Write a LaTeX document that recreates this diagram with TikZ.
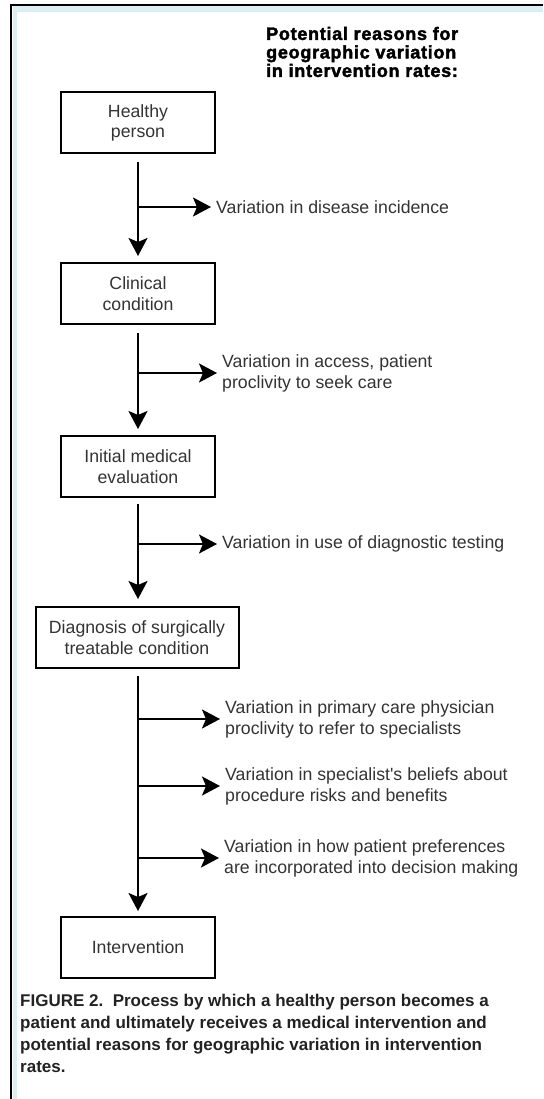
\documentclass[tikz,border=0pt]{standalone}
\usepackage{fontspec}
\setmainfont{Liberation Sans}
\newfontfamily\titlefont{Liberation Sans}[BoldFeatures={FakeBold=2.2,LetterSpace=4}]
\usetikzlibrary{arrows.meta}
\definecolor{band}{HTML}{DDEEF3}
\definecolor{txt}{HTML}{333333}
\definecolor{cap}{HTML}{222222}
\begin{document}
\begin{tikzpicture}[x=1pt,y=-1pt,
  stagebox/.style={draw=black,line width=2pt,minimum width=154pt,minimum height=61pt,
    align=center,inner sep=0pt,text=txt,font=\fontsize{17.7}{20.5}\selectfont},
  reason/.style={anchor=west,align=left,inner sep=0pt,text=txt,font=\fontsize{17.7}{21}\selectfont},
  tip/.style={-{Stealth[length=18pt,width=19pt,inset=4pt]}},
  flow/.style={line width=2pt,tip},
  branch/.style={line width=2pt,tip,shorten >=5pt}]
\useasboundingbox (0,0) rectangle (543,1099);
% frame
\fill[band] (12.5,6.5) rectangle (543,12);
\fill[band] (12.5,6.5) rectangle (17,1099);
\draw[line width=2pt] (11,1099) -- (11,5) -- (543,5);
% title
\node[anchor=west,align=left,inner sep=0pt,font=\titlefont\bfseries\fontsize{18}{18.5}\selectfont] (title) at (266,52)
  {Potential reasons for\\geographic variation\\in intervention rates:};
% boxes
\node[stagebox] (hp) at (138,123) {Healthy\\person};
\node[stagebox] (cc) at (138,293.5) {Clinical\\condition};
\node[stagebox] (ime) at (138,466.5) {Initial medical\\evaluation};
\node[stagebox,minimum width=203pt] (dx) at (137,637.5) {Diagnosis of surgically\\treatable condition};
\node[stagebox] (iv) at (138,947.5) {Intervention};
% reasons
\node[reason] (r1) at (216,207) {Variation in disease incidence};
\node[reason] (r2) at (222,373) {Variation in access, patient\\proclivity to seek care};
\node[reason] (r3) at (222,544) {Variation in use of diagnostic testing};
\node[reason] (r4) at (225,719) {Variation in primary care physician\\proclivity to refer to specialists};
\node[reason] (r5) at (225,786) {Variation in specialist\textquotesingle s beliefs about\\procedure risks and benefits};
\node[reason] (r6) at (224,858) {Variation in how patient preferences\\are incorporated into decision making};
% branch points
\coordinate (b1) at (138,207);
\coordinate (b2) at (138,373);
\coordinate (b3) at (138,544);
\coordinate (b4) at (138,719);
\coordinate (b5) at (138,786);
\coordinate (b6) at (138,858);
% main flow
\draw[flow,shorten <=8pt,shorten >=6pt] (hp.south) -- (cc.north);
\draw[flow,shorten <=8pt,shorten >=6pt] (cc.south) -- (ime.north);
\draw[flow,shorten <=6pt,shorten >=7pt] (ime.south) -- (ime.south |- dx.north);
\draw[flow,shorten <=7pt,shorten >=5pt] (ime.south |- dx.south) -- (ime.south |- iv.north);
% branches
\draw[branch] (b1) -- (r1.west);
\draw[branch] (b2) -- (r2.west);
\draw[branch] (b3) -- (r3.west);
\draw[branch] (b4) -- (r4.west);
\draw[branch] (b5) -- (r5.west);
\draw[branch] (b6) -- (r6.west);
% caption
\node[anchor=north west,align=left,inner sep=0pt,text=cap,font=\bfseries\fontsize{17}{22}\selectfont] (caption) at (20,994)
  {FIGURE 2.\ \ Process by which a healthy person becomes a\\patient and ultimately receives a medical intervention and\\potential reasons for geographic variation in intervention\\rates.};
\end{tikzpicture}
\end{document}
